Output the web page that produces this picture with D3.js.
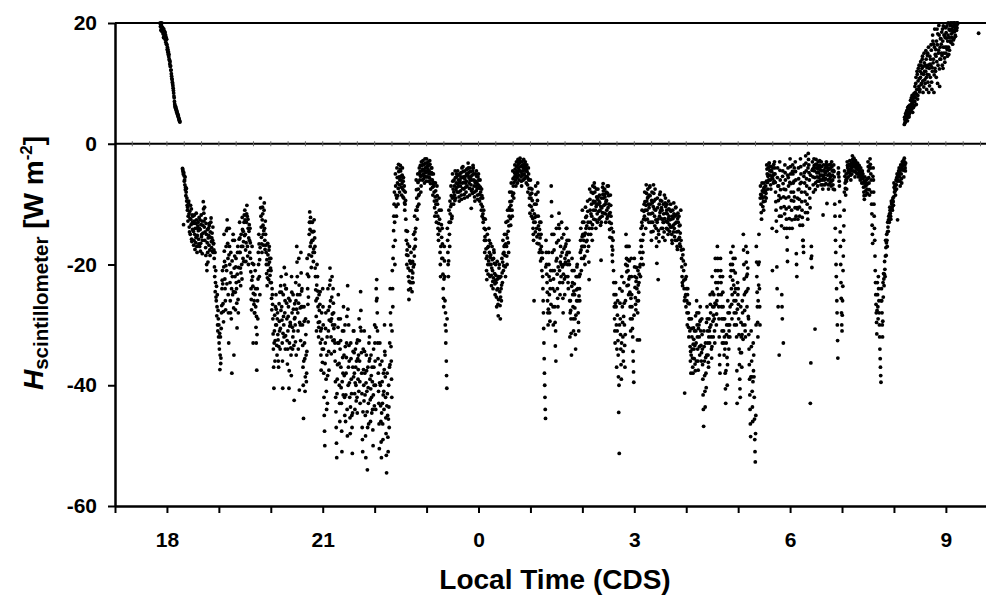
<!DOCTYPE html>
<html lang="en">
<head>
<meta charset="utf-8" />
<title>H scintillometer</title>
<script src="https://cdnjs.cloudflare.com/ajax/libs/d3/7.8.5/d3.min.js"></script>
<style>
  body { margin: 0; background: #fff; overflow: hidden; }
  text { font-family: "Liberation Sans", Arial, sans-serif; font-weight: bold; }
</style>
</head>
<body>
<div id="chart"></div>
<script>
// sampling step of the flux series (hours); rows hold 20 samples = 0.1 h
var step = 0.005;

// evening, positive flux (17.87 .. 18.25)
var eveningStart = 17.87;
var eveningH = [20,19.4,19.8,18.8,19.6,19,20,18.6,19.3,18.9,
  19.2,18.2,18.8,17.6,19,18,17.5,18.6,17.8,18.4,
  17.2,18,16.8,17.6,16.5,17.3,
  16.4,15.6,16,15.2,15.6,14.8,15.2,14.4,14.8,14,
  13.8,13.2,13.6,12.8,12.9,12.2,12.2,11.6,
  11.2,10.8,10.6,10.2,9.9,9.6,
  9.2,8.8,8.4,7.9,7.6,7,6.6,
  6.3,6,6.2,5.8,5.9,5.5,5.6,5.2,5.3,
  5,4.8,4.9,4.5,4.6,4.3,4.2,4,3.9,3.7,3.6];

// night, negative flux, one row per 0.1 h starting 18.3
var nightStart = 18.3;
var nightH = [
  [-4.1,-4.3,-4.6,-5,-13.4,-4.8,-5.3,-6.2,-6,-6.8,-5.5,-7.6,-7.2,-8.6,-8,-7.4,-9.5,-9,-10.2,-11],
  [-10.5,-12.8,-12,-9.8,-9.5,-11.6,-13.8,-14.6,-11.2,-12.4,-15,-10.2,-12.5,-13.4,-10.8,-15.8,-16.2,-11.8,-13,-14.2],
  [-12,-13.2,-14.5,-16.8,-16,-12.8,-11.8,-15,-17.5,-14,-13.2,-16.4,-15.5,-11.5,-12.6,-17,-18,-15.2,-14,-13.6],
  [-13,-14.4,-15.8,-16.6,-12.2,-14,-17,-12.6,-14.2,-17.8,-16.5,-13.4,-11.8,-15.4,-15,-12.8,-18.2,-16,-13.5,-14.8],
  [-9.6,-10.8,-11.5,-12.8,-13.8,-10.5,-16,-14.6,-12.4,-17.2,-18.5,-13.2,-15,-20,-21,-16.4,-14.2,-18,-19.6,-15.6],
  [-14,-15.2,-16.8,-13.6,-13.2,-17.6,-18.5,-14.6,-15.5,-13,-12.3,-16.2,-17.2,-15.6,-14.8,-17.8,-16,-13.8,-18,-16.6],
  [-16.5,-17.6,-19,-20.4,-22,-18,-24.5,-23,-21,-25.4,-26,-23.6,-28.5,-27,-25,-30,-31,-27.6,-29,-32],
  // 19 h
  [-30,-33,-34,-31.4,-37.4,-35,-32,-36.4,-35.5,-30.6,-28,-26.8,-24,-22.6,-21,-23.2,-26.5,-27.8,-29.5,-20.4],
  [-15,-17.8,-19.5,-22.4,-24,-26,-27.5,-20.2,-17,-14.4,-21,-23.2,-12.6,-14,-16.5,-19,-25,-28,-33,-18.4],
  [-14,-17,-20,-23,-26,-28,-18,-21.4,-29,-24,-38,-19.4,-22,-25,-16,-15,-24.5,-27.2,-35,-20.6],
  [-16,-18.6,-22,-24.6,-27.5,-20.4,-19,-23,-24,-26.4,-30.5,-21.6,-18,-17,-25.8,-28,-20.5,-22.8,-15.8,-18],
  [-13,-15.6,-18,-20.6,-23.5,-21.4,-15,-17,-20,-22.4,-12.2,-14.2,-17,-19,-14.5,-16.2,-19.5,-13,-11.8,-15.2],
  [-11,-12.6,-15,-17.6,-19.5,-16.4,-13,-11.6,-10.2,-12,-17,-18.6,-12.5,-14,-20,-15.6,-14.5,-13.4,-16,-18],
  [-14,-16.4,-19,-21.2,-24,-25.8,-27.5,-22.6,-17,-19.8,-22,-23.6,-33,-24.8,-20,-26.6,-26,-28,-28,-25],
  [-21,-24,-27,-30.4,-33,-28.6,-37.5,-31.6,-24,-26,-29,-22.4,-18,-20,-15,-16.6,-22,-19.2,-25,-17.2],
  [-9,-10.6,-12,-13.8,-15.5,-16.6,-18,-12.6,-10.5,-11.6,-13.5,-15,-16.8,-14.4,-11,-9.8,-14,-16,-17.5,-12.8],
  [-15,-16.8,-18,-20,-21.5,-19.2,-23.5,-22.2,-16.5,-18.4,-20,-21,-22.5,-17.6,-17,-19.6,-19,-21.8,-23,-20.6],
  // 20 h
  [-19,-21,-23,-25.6,-27.5,-24,-25,-26.6,-29,-31.5,-34,-37,-40.5,-33,-31,-28.4,-36,-32.6,-27,-30],
  [-25,-27.4,-30,-33.4,-35,-29,-28,-31.6,-32.5,-36,-37,-33.6,-26.5,-29.4,-31,-24.6,-34,-30.6,-23.5,-27.6],
  [-22,-24.6,-27,-29.2,-33,-36,-40.5,-31.4,-25,-28.6,-30,-32,-20.5,-23.4,-28,-26,-34,-31.8,-24,-21.6],
  [-24,-26.4,-29,-32.6,-36.5,-34,-31,-28.6,-27,-25.6,-40.5,-37.6,-33,-30.2,-26,-29.6,-30,-33.8,-35,-38.4],
  [-22,-24.6,-28,-30.4,-34,-32,-25,-27.4,-31,-33.4,-42.5,-29,-26.5,-28.8,-30,-32.8,-23,-26,-35,-27.4],
  [-17,-19.6,-22,-25,-28,-31,-34,-26.4,-19,-23.4,-40.8,-29.6,-25,-27.2,-30,-32.6,-18,-21.4,-27,-24.4],
  [-24,-27,-30,-33.4,-37,-40,-45.5,-36,-27,-29.4,-33,-35.6,-41,-38.6,-29,-31.6,-35,-39.4,-38,-34.4],
  [-19,-21.6,-24,-26.6,-29.5,-25.4,-22,-18.4,-15,-13,-11.3,-14.2,-17,-12.2,-13,-16.4,-20.5,-18.6,-14.5,-16],
  [-13,-14.6,-16,-18,-19.5,-17.4,-14.5,-12.6,-18,-15.6,-17,-20.6,-22,-24.2,-26,-28.6,-31,-23.4,-20,-25.6],
  [-22,-24.4,-27,-29.6,-32,-30.4,-25,-27.6,-29.5,-26.6,-24.5,-33,-31,-35,-37.5,-30.6,-28,-32.4,-34,-36.2],
  // 21 h
  [-24,-27,-30,-34,-38,-42,-45,-47.6,-50,-36.4,-33,-30.6,-28,-39,-41,-44,-35,-32,-43,-38.4],
  [-24,-27.6,-31,-34.4,-37.5,-29.2,-27,-23.4,-20.6,-22.6,-26,-29.4,-32,-34.8,-29,-25.4,-22,-28.2,-30,-32.6],
  [-24,-26.4,-28,-30.6,-32.5,-34.4,-30,-33,-36,-39.4,-42,-44.4,-47,-49.6,-52,-41.4,-39,-36.6,-33,-30.4],
  [-25,-29,-33,-36.4,-40,-43,-46,-34,-29,-32.6,-37,-40.4,-43,-47.6,-51,-39.4,-31,-35.4,-38,-41.6],
  [-27,-31,-35,-38.4,-42,-45,-30,-33.6,-46,-41.6,-38,-35.4,-33,-28.6,-44,-48.4,-23.5,-27.4,-40,-37],
  [-30,-33.4,-36,-39.6,-42,-45.4,-48,-43.6,-33,-35.6,-39,-41.4,-45,-47,-51.3,-44.6,-37,-34.4,-31,-38.6],
  [-31,-34.6,-38,-41.4,-44,-39.6,-34,-37,-40,-42.6,-36,-33,-42,-44.6,-32.5,-35.6,-39,-37.4,-35,-41],
  [-29,-32.6,-36,-39.4,-43,-30.4,-24.5,-27.6,-31,-34.6,-38,-41.4,-47,-49,-51,-44.4,-34,-37.4,-40,-42.6],
  [-31,-34.4,-38,-41.6,-45,-48.4,-52,-39.6,-35,-37.6,-41,-44.4,-54,-47,-37,-40.4,-43,-46.4,-33,-36],
  [-32,-35.6,-39,-42.4,-46,-40.6,-35,-38.4,-42,-44.6,-37,-39.4,-44,-47.4,-50,-41.6,-34,-37,-40,-43.4],
  // 22 h
  [-30,-33,-36,-40,-44,-30.4,-24,-26,-22.5,-25.6,-28,-31,-33,-35.6,-38,-41,-43,-46.4,-50.5,-39.6],
  [-33,-36.6,-40,-43.4,-46,-49.4,-52,-44.6,-36,-39.4,-43,-46.4,-49,-41.6,-38,-41,-44,-37.4,-30,-34.4],
  [-35,-38.6,-42,-45.4,-48,-51.6,-54.5,-43.4,-38,-41.4,-45,-48.6,-51,-45.6,-40,-43.6,-47,-37,-33,-36.6],
  [-24,-28,-30,-33.6,-36,-39,-42,-31,-21,-24,-27,-19,-17,-14.4,-12,-10,-8,-13,-20,-16],
  [-5,-7,-8.5,-10.4,-12,-9,-4,-5.6,-6.5,-8.6,-10,-7.4,-3.4,-4.6,-5.5,-6.8,-8,-6,-4.2,-3.6],
  [-4.5,-5.4,-6,-7.2,-8.5,-6.6,-5.2,-4,-7.5,-8.8,-6.2,-5.6,-9,-7.8,-7,-9.8,-11,-10,-8,-9.4],
  [-12.5,-14.4,-16,-18.4,-20,-17.6,-14.5,-16.6,-18.5,-20.6,-22,-24.2,-25.8,-22.8,-17,-19.4,-21,-23,-24,-19.8],
  [-18,-19.6,-21,-23,-24.5,-22.2,-19.5,-21.4,-23,-20.4,-15,-17.4,-20,-18.6,-12,-14.6,-17,-15.8,-14,-11],
  [-6,-7.6,-9,-11,-12.5,-10.4,-5,-6.4,-7.5,-8.6,-10,-8.4,-4,-5,-6,-4.6,-3.6,-5.4,-8,-7],
  [-3,-3.6,-4.5,-5.2,-6,-4.2,-2.8,-3.4,-5,-5.8,-3.5,-4.4,-6.5,-5.4,-2.5,-3.2,-4,-4.8,-5.5,-6.2],
  // 23 h
  [-2.5,-3.2,-3.8,-4.6,-5.5,-4.2,-3,-3.6,-6.2,-5,-4.5,-5.6,-2.8,-3.4,-5,-6.6,-7.5,-6,-4,-4.8],
  [-4,-5,-6,-7.2,-8.5,-6.6,-5,-6.4,-7,-8,-9.5,-10.6,-12,-8.8,-6.5,-7.8,-10,-11.4,-13,-9.4],
  [-7,-8.6,-10,-12,-14,-15,-16,-13.2,-9,-11,-12.5,-14.4,-18,-20,-22,-17,-11,-13.4,-15.5,-19],
  [-14,-16.6,-19,-21.6,-24,-25.6,-27,-22.4,-17,-19.4,-22,-26,-30,-28,-33,-31,-36,-38.4,-40.5,-29],
  [-14,-16,-18,-20,-22,-19.4,-11,-13,-15,-17,-9.5,-11.6,-13,-10.4,-7,-8.6,-10,-12.4,-12,-9],
  [-5,-6.2,-7.5,-8.8,-10,-8,-6,-7,-8.5,-9.4,-4.5,-5.6,-9,-7.6,-6.5,-5,-5.5,-7.2,-8,-6.6],
  [-4.5,-5.2,-6,-7,-8,-8.8,-9.5,-6.4,-5,-6,-7,-7.8,-5.5,-4.8,-8.5,-9.2,-4,-5.6,-6.5,-7.4],
  [-3.8,-4.6,-5.5,-6.4,-7.5,-8.4,-9,-5.8,-4.5,-5.4,-6.5,-7.2,-8,-6.2,-5,-4.2,-7,-8.8,-4.2,-5.2],
  [-3.2,-4,-4.8,-5.6,-6.5,-7.4,-8.5,-6,-4,-4.6,-5.5,-6.8,-10.7,-7.8,-6,-5.2,-7.5,-8.2,-4.5,-3.6],
  [-4,-5,-6,-7,-8,-8.8,-9.5,-6.4,-5,-6.2,-7,-7.8,-4.5,-5.4,-6.5,-7.4,-8.5,-9.2,-5.5,-6.8],
  // 0 h
  [-5,-6,-7,-8.4,-9.5,-7.4,-6,-7.2,-8,-9,-10,-11,-7.5,-8.6,-12,-10.4,-9,-11.6,-13,-12.4],
  [-11,-12.4,-14,-16,-18,-15.4,-12.5,-14.2,-16,-17.4,-19,-21,-22.5,-18.6,-15,-17.2,-20,-21.6,-17,-19.4],
  [-14,-16,-18,-20,-22,-18.8,-16.5,-18.4,-20,-21.8,-23.5,-20.6,-17,-19.2,-21,-22.8,-24,-22.2,-19,-17.6],
  [-18,-19.8,-21.5,-23.2,-25,-22.6,-20,-21.8,-23,-25.4,-27,-24.2,-19.5,-22.4,-24,-26.6,-28.5,-25.8,-22,-20.6],
  [-20,-22.2,-24.5,-26.8,-29,-25.4,-22,-24,-26,-23.4,-19,-21.4,-23,-19.6,-16,-18.2,-21,-20.2,-18,-17],
  [-15,-16.8,-18.5,-20.4,-22,-16.6,-13,-15,-17,-18.6,-20,-15.6,-11,-12.8,-14.5,-16.4,-18,-13.6,-12,-10.6],
  [-8,-9.6,-11,-12.4,-13.5,-10.2,-6.5,-8,-9.5,-11,-12,-8.6,-4.5,-5.8,-7,-8.2,-9,-6.4,-5.5,-4.8],
  [-3.5,-4.2,-5,-6,-7,-5.4,-3,-3.8,-4.5,-5.6,-6.5,-4.8,-2.6,-3.4,-4,-5.2,-6,-4.4,-3.2,-2.8],
  [-2.4,-3,-3.8,-4.6,-5.5,-6.2,-7,-5,-3,-3.6,-4.5,-5.2,-6,-4,-2.6,-3.4,-5,-5.8,-3.5,-4.2],
  [-3,-3.8,-4.5,-5.4,-6.5,-4.2,-3.5,-4.6,-5.5,-6.8,-8,-5.8,-4,-5,-6,-7.4,-9,-10.2,-11.5,-8.4],
  // 1 h
  [-6,-7.4,-9,-10.4,-12,-8.2,-7.5,-9.4,-11,-12.4,-14,-15,-16,-13,-26,-11.6,-10,-12.2,-13,-14.6],
  [-7,-8.4,-10,-12,-14,-15.4,-16.5,-9.4,-6.5,-8,-12,-13.6,-15,-16.6,-18,-14.2,-13,-15.6,-17.5,-19.4],
  [-13,-15,-17,-19,-21,-18,-19,-22,-24,-26,-28,-30.6,-33,-35.6,-38,-40,-42,-44,-45.5,-20.4],
  [-16,-18,-20,-21.6,-23,-24.6,-26,-28,-30,-27.4,-18,-20,-22,-25,-28,-29.4,-24,-22.6,-21,-26.6],
  [-7,-9.6,-12,-15,-18,-21,-24,-27,-30,-22.4,-15,-17.6,-21,-24.4,-27,-29.6,-33.5,-31,-36,-19.4],
  [-14,-16.4,-19,-21.6,-24,-25.6,-27,-20.4,-16,-13.4,-11.5,-14,-21,-23,-25,-19.6,-17,-18.6,-22,-20],
  [-13,-15.6,-18,-20.4,-23,-25.6,-28,-21.6,-15,-17.4,-20,-22.4,-25,-19,-17,-19.6,-22,-16.6,-14,-18.4],
  [-14,-16,-18,-20,-22,-23,-24,-19.4,-16,-18,-20,-26,-32,-28,-26,-27.6,-29,-31.4,-35,-23.6],
  [-19,-21,-23,-25,-27,-29,-31,-24.4,-21,-23.2,-25,-27.2,-29,-31.6,-34,-28.4,-22,-24.2,-26,-20.4],
  [-20,-22,-24,-26,-28,-29.6,-31,-25.2,-22,-24,-26,-21.6,-18,-16,-14,-17.6,-21,-19,-17,-15.4],
  // 2 h
  [-11,-13,-15,-17,-19,-16,-13,-15.2,-17,-18.6,-20,-14.8,-10.5,-12.2,-14,-16.2,-12,-13.6,-16,-17.8],
  [-9.5,-11.2,-13,-15,-17,-19.6,-22.5,-14,-7.5,-9.2,-11,-13,-15,-11.6,-8,-10,-12,-14,-16,-13.4],
  [-7,-8.2,-9.5,-11,-12.5,-9.8,-6.5,-7.2,-8,-9.6,-11,-12.6,-14,-10.4,-7.5,-8.8,-10,-11.6,-13,-9.2],
  [-7.5,-8.8,-10,-11.2,-12.5,-9.6,-8.5,-9.8,-11,-12.2,-13.5,-10.4,-19.3,-13,-9,-10.6,-12,-11.4,-7.2,-8.4],
  [-6.6,-7.8,-9,-10.2,-11.5,-8.4,-7.5,-8.8,-10,-11.6,-13,-9.6,-8,-9.4,-11,-12.4,-7,-8.2,-12,-10.6],
  [-7,-8.6,-10,-11.6,-13,-14.2,-15.5,-11.4,-8.5,-10.2,-12,-13.2,-14,-15.6,-17,-18.4,-19.5,-17.6,-16,-14.6],
  [-21,-23,-25,-27,-29,-31,-33,-26.4,-23,-25,-27,-30,-37,-34,-31,-28.4,-26,-32.6,-35,-38.6],
  [-44.5,-40,-51.3,-30,-24,-26.4,-29,-31.6,-34,-36.6,-39,-33,-22,-24.4,-27,-29.6,-32,-34.4,-36,-28.6],
  [-23,-26.4,-30,-33.4,-37,-31.6,-26,-20,-15,-17,-19,-21.2,-23.5,-20.2,-17,-19.2,-21,-23.4,-25,-22.4],
  [-17,-19.4,-22,-24.6,-27,-29,-31,-25.6,-19,-22,-25,-27,-29,-30.6,-32,-34.4,-36,-37.8,-39.5,-28.4],
  // 3 h
  [-19,-20.4,-22,-23.8,-25.5,-26.6,-27.5,-22.8,-20.5,-22.2,-24,-26,-32.5,-28,-21,-23.4,-26,-24.6,-23,-21.6],
  [-32.5,-20.4,-18,-20,-22,-16,-14,-17,-19,-13,-11,-13.6,-16,-18,-20,-15,-12.5,-11.2,-10,-12],
  [-8,-9.6,-11,-12.6,-14,-10.2,-6.8,-8.2,-9.5,-11,-12.5,-9,-7.5,-8.8,-10,-11.6,-13,-10.6,-8.5,-7.2],
  [-7,-8.6,-10,-11.6,-13,-14.6,-16,-9.4,-8,-9.8,-11.5,-13,-14.5,-10.4,-6.8,-8.2,-9.5,-10.8,-12,-13.6],
  [-7.5,-9.2,-11,-12.6,-14,-15.6,-17,-19.8,-13,-9,-10.6,-12.5,-22.5,-14.4,-15,-16.2,-10,-12,-8.4,-11.4],
  [-8,-9.4,-11,-12.4,-14,-10.6,-9.5,-11,-12.5,-14,-15.5,-13,-10,-11.6,-13,-14.6,-8.5,-12.4,-16,-9.8],
  [-9,-10.4,-11.5,-12.8,-14,-11,-10,-11.6,-13,-14.2,-15,-12.4,-9.5,-10.8,-12,-13.4,-14.5,-12.6,-11,-13.8],
  [-10,-11.2,-12.5,-13.8,-15,-16,-16.5,-12,-11,-12.4,-13.5,-14.6,-9.8,-11.6,-14,-15.4,-12,-13.2,-16,-10.6],
  [-10.5,-11.8,-13,-14.6,-16,-17,-17.5,-12.4,-11.5,-13,-14.5,-15.8,-12,-13.6,-15.5,-16.6,-13.5,-14.8,-17,-11],
  [-16,-17.6,-19,-20.4,-22,-23,-23.5,-18.4,-17.5,-19.4,-21,-22.6,-24,-26,-41.3,-25.4,-20,-22.4,-25,-27],
  // 4 h
  [-22,-24,-26,-28,-30,-25,-24,-26.4,-28,-30.4,-32,-29,-26.5,-29,-31,-33.6,-36,-34.4,-38,-35],
  [-29,-30.6,-32,-34,-35.5,-37,-38,-33.2,-30.5,-32.4,-34,-35.6,-31,-33.4,-36.5,-37.6,-28.5,-31,-33,-36],
  [-26,-28,-30,-32,-34,-36,-37.5,-30.6,-28,-30,-32,-33.6,-35,-29.4,-27,-29.2,-31,-33.4,-36,-34.6],
  [-29,-31.6,-34,-36.6,-39,-41.6,-44,-46.8,-31,-33.6,-36,-38.4,-41,-43.6,-33,-35.4,-38,-40.4,-29.6,-35],
  [-27,-29,-31,-33,-35,-36.2,-37,-32,-29,-31,-33,-30.4,-25,-26.6,-28,-30,-32,-34,-35.5,-33.6],
  [-22,-24.6,-27,-29.4,-32,-28.4,-25,-27,-29,-31,-33,-26.4,-19,-21,-23,-26.6,-30,-28.2,-26,-24],
  [-17,-19,-21,-23,-25,-27,-29,-32,-35,-36.6,-38,-22,-19,-21,-23,-25,-27,-29,-31,-33],
  [-22,-24.6,-27,-29,-31,-33,-35,-32,-29,-34,-38,-40.6,-43,-37.6,-33,-31.6,-30,-35.4,-40,-36.6],
  [-26,-28,-30,-32,-34,-31,-28,-30,-32,-27,-22,-20,-18,-21,-24,-26.6,-29,-25,-20,-22.6],
  [-17,-19,-21,-23.4,-26,-28,-30,-24.6,-19,-21.4,-24,-26,-28,-30,-32,-37.6,-43,-27.4,-23,-25],
  // 5 h
  [-24,-26.6,-29,-31.6,-34,-36.6,-39,-40.6,-42,-34.6,-27,-29.6,-32,-34.6,-37,-31.6,-26,-28,-30,-32.4],
  [-15,-17.6,-20,-22.4,-25,-27.6,-30,-31,-32,-24.6,-17,-19.6,-22,-24.4,-27,-21.6,-18,-20.6,-24,-28.6],
  [-29,-31.6,-34,-36.6,-39,-41.6,-44,-46.4,-48.5,-38.6,-31,-33.6,-36,-38.6,-41,-43.6,-46,-39.4,-33,-37.6],
  [-35,-38.6,-42,-45.6,-49,-51,-52.7,-48,-45,-30,-17,-19.6,-22,-24.6,-27,-29.6,-32,-26,-20,-23.4],
  [-15,-19.6,-24,-27,-30,-9,-7,-8.4,-10,-11.4,-12.5,-8.6,-6.5,-7.8,-9,-10.4,-8,-9.6,-11,-7.4],
  [-6.5,-7.2,-8,-8.8,-9.5,-7.8,-7,-8.2,-9,-6.2,-3.5,-4.2,-5,-6.4,-7.5,-5.4,-4,-5.2,-6,-3.2],
  [-3.2,-3.8,-4.5,-5.2,-6,-6.8,-7.5,-4.4,-3.8,-4.6,-5.5,-14,-21,-5.8,-4,-5.2,-6.5,-3.4,-5,-6.2],
  [-3,-4,-5,-6.4,-8,-9.6,-11,-12.8,-14.5,-20.4,-24,-5.6,-4,-7,-27,-9.4,-7,-8.6,-35,-12],
  [-3,-4.4,-6,-7.6,-9,-10.6,-12,-13.6,-25,-27,-29,-5.4,-4.5,-6.6,-33,-8.8,-7.5,-10.4,-14,-11.6],
  [-3.5,-4.8,-6,-7.6,-9,-10.8,-12.5,-14,-15.5,-17.6,-19.5,-5.2,-4,-5.6,-7,-8.8,-10.5,-12.4,-14,-6.4],
  // 6 h
  [-2.5,-3.8,-5,-6.6,-8,-9.4,-11,-12.6,-14,-4.6,-3.5,-5,-6.5,-8,-9.5,-6.2,-4,-8.8,-12.5,-10.6],
  [-3,-4.6,-6,-12,-18.2,-20,-22,-10.6,-9,-10.8,-12.5,-7.6,-4,-5.8,-7.5,-9.2,-10.5,-12,-13.5,-6.6],
  [-2.5,-3.8,-5,-6.4,-8,-9.6,-11,-12.2,-13.5,-16,-16,-17,-18,-5.4,-3.5,-4.8,-6.5,-8,-9.5,-11.4],
  [-2,-3.2,-4.5,-5.8,-7,-8.4,-10,-11.4,-12.5,-4,-1.6,-2.6,-3.5,-4.8,-6,-7.4,-9,-10.6,-43,-5.2],
  [-36.3,-19,-17,-18.6,-20.5,-4.4,-3,-4.2,-5.5,-6.8,-8,-4,-2.5,-3.6,-4.5,-5.6,-30.7,-7.6,-6.5,-3.4],
  [-2.6,-3.4,-4,-4.8,-5.5,-6.2,-7,-4.2,-3,-3.8,-4.8,-5.6,-6.2,-3.6,-2.8,-3.6,-4.3,-5.2,-6,-6.8],
  [-3,-3.8,-4.5,-5.2,-6,-6.8,-7.5,-11.8,-5.6,-3.5,-4.4,-5.2,-6,-6.8,-4.6,-4,-4.8,-5.8,-6.6,-3.4],
  [-3,-3.8,-9.9,-4,-4.5,-5.2,-6,-6.8,-7.5,-4.2,-3.5,-4.2,-5,-5.8,-6.5,-3.4,-4,-5.4,-7,-6.2],
  [-3,-3.8,-4.5,-5.2,-6,-6.8,-7.5,-4.4,-3.5,-4.6,-5.5,-7.6,-10,-12,-14,-16,-18,-20,-22,-24],
  [-26,-28,-30,-32.6,-35.5,-5,-4,-4.8,-5.5,-6.2,-7,-9.6,-12,-14.6,-17,-20,-23,-25.6,-28,-30],
  // 7 h
  [-31,-28.4,-26,-23.6,-21,-18.6,-16,-13.6,-11,-8,-4.5,-5.4,-6.5,-7.4,-8.5,-6,-5,-6.2,-7.5,-5.8],
  [-3,-3.6,-4,-4.8,-5.5,-4.4,-3.5,-4.2,-4.8,-3.4,-2.8,-3.6,-4.2,-5.2,-6,-4.4,-3.2,-4,-5,-3.8],
  [-2,-2.6,-3,-3.8,-4.5,-3.4,-2.4,-3,-3.6,-4.6,-5.5,-3.8,-2.8,-3.4,-4,-4.8,-3.2,-4.2,-5,-3.6],
  [-3.2,-3.8,-4.2,-5,-5.5,-4.4,-3.6,-4.2,-4.8,-5.4,-6,-4.6,-4,-4.6,-5.2,-5.8,-6.5,-5.4,-4.5,-5],
  [-5,-5.8,-6.5,-7.2,-8,-8.6,-9.2,-6.2,-5.5,-6.4,-7,-7.8,-8.5,-6.8,-6,-6.8,-7.5,-8.2,-5.8,-6.6],
  [-3,-3.8,-4.5,-5.6,-6.5,-7.6,-8.5,-4,-2.5,-3.4,-4,-5,-6,-8,-10,-11.6,-13.5,-15,-16.5,-5.4],
  [-4,-6,-8,-10,-12,-14,-16,-18.6,-21,-23,-25,-26.6,-28,-29.6,-31.5,-27.6,-23,-25,-27,-29],
  [-22,-24,-26,-28,-30,-32,-34,-35.6,-37,-38.4,-39.5,-26,-24,-26,-28,-30,-32,-29.4,-23,-25.4],
  [-21.5,-22.4,-23.5,-21.6,-19.5,-20.8,-22,-18.6,-16,-17.2,-18.5,-16.4,-15,-16,-17,-14.6,-13,-13.8,-14.5,-12.6],
  [-12,-12.6,-13,-11.6,-10.5,-11,-11.5,-12,-12.5,-10.6,-9.5,-9.8,-10,-10.6,-11,-9.4,-9,-9.6,-10.2,-8.8],
  // 8 h
  [-6.5,-7.2,-8,-7.4,-7,-7.8,-8.5,-6.8,-6,-6.8,-7.5,-5.6,-5,-6.2,-12.6,-5.4,-6,-5.2,-4.5,-5],
  [-4,-4.8,-5.5,-6.2,-7,-4.4,-3.5,-4.2,-5,-5.8,-6.5,-3.8,-3,-3.6,-4.2,-3.2,-2.8,-4.4,-5.5,-3.4],
  [-2.4,-3,-3.5,-4,-4.5,-3.2]
];

// morning, positive flux, rows of 0.1 h starting 32.2
var morningStart = 32.2;
var morningH = [
  [3.2,4.4,4,3.5,3.6,5,4.8,4.2,4.2,5.4,5.5,4.6,3.8,6,5,5.2,6.2,4.4,4.6,5.8],
  [5,6.4,6,5.4,7.2,6.2,5.6,7.6,6.6,5.8,8,6.8,5.2,7.4,7,6,6.2,8.3,7.8,6.4],
  [7,9.5,8.5,7.6,10,11,6.5,8.2,9,12,11.5,7.4,8,10.4,12.5,9,9.5,13,10.8,8.6],
  [9,12,11,13.6,13,9.8,10,11.6,12.5,14,14.5,10.4,8.5,12.8,11.5,9.4,15,13.4,12,10.6],
  [10,13,12,15.4,14,11,9,12.6,11.5,14.6,15,10.2,13,16,8.5,11.4,12.5,9.6,14.5,13.2],
  [11,14,13,16.4,15.5,10.2,9,12.6,12,18,17,13.4,14,16.5,8.5,11.4,16,19,12.5,14.8],
  [12,15.6,14.5,11,17,13.6,19,16.4,10,18.2,13,15,15.5,19.6,18,12.4,9.5,14,16,17.4],
  [14,17.4,16.5,15,18.5,14.6,13,19,17,12.5,19.5,16,15,18,18,14.2,13.5,17.6,16,19.2],
  [15,18.4,17.5,16,19.5,15.6,14.5,17,18,20,16,14.8,19,17.6,15.5,18.8,17,19.6,20,16.8],
  [17,18.2,19,17.6,20,18.8,16.5,19.4,18.5,17.2,19.5,20,17.5,18.6,20,19.2,18,17.8,19,19.8],
  [19.5,18.8,20,19.2,19.8,20]
];

// isolated late sample
var strayT = [33.63];
var strayH = [18.3];

var yTicks = [20, 0, -20, -40, -60];
var hourTicks = d3.range(17, 34);

var width = 986, height = 596;
var pxPerHour = 51.93;
var rowSpan = 0.1;

var x = d3.scaleLinear().domain([17, 34]).range([115, 115 + 17 * pxPerHour]);
var y = d3.scaleLinear().domain([-60, 20]).range([506, 23]);

var points = [];
eveningH.forEach(function (v, i) { points.push([eveningStart + i * step, v]); });
nightH.forEach(function (row, r) {
  row.forEach(function (v, i) { points.push([nightStart + r * rowSpan + i * step, v]); });
});
morningH.forEach(function (row, r) {
  row.forEach(function (v, i) { points.push([morningStart + r * rowSpan + i * step, v]); });
});
strayT.forEach(function (t, i) { points.push([t, strayH[i]]); });

var svg = d3.select("#chart").append("svg")
  .attr("width", width)
  .attr("height", height);

svg.append("clipPath").attr("id", "plot")
  .append("rect").attr("x", 115).attr("y", 21).attr("width", width - 115).attr("height", 487);

// dots
svg.append("g").attr("clip-path", "url(#plot)")
  .selectAll("circle")
  .data(points)
  .enter()
  .append("circle")
    .attr("cx", function (d) { return x(d[0]); })
    .attr("cy", function (d) { return y(d[1]); })
    .attr("r", 1.9)
    .attr("fill", "#000");

// top frame and zero line
svg.append("line")
  .attr("x1", 115).attr("x2", width)
  .attr("y1", y(20)).attr("y2", y(20))
  .attr("stroke", "#000").attr("stroke-width", 2);
svg.append("line")
  .attr("x1", 115).attr("x2", width)
  .attr("y1", y(0)).attr("y2", y(0))
  .attr("stroke", "#000").attr("stroke-width", 2);

// small minor ticks on the zero line every 20 min
svg.append("g")
  .selectAll("line")
  .data(d3.range(17 + 1 / 3, 34, 1 / 3))
  .enter()
  .append("line")
    .attr("x1", function (d) { return x(d); })
    .attr("x2", function (d) { return x(d); })
    .attr("y1", y(0) - 2.5).attr("y2", y(0) + 2.5)
    .attr("stroke", "#666").attr("stroke-width", 1);

// x axis
var xAxis = svg.append("g")
  .attr("transform", "translate(0," + y(-60) + ")")
  .call(d3.axisBottom(x)
    .tickValues(hourTicks)
    .tickSize(7)
    .tickSizeOuter(0)
    .tickPadding(19)
    .tickFormat(function (h) { return (h - 18) % 3 === 0 ? String(h % 24) : ""; }));
xAxis.select(".domain").attr("stroke-width", 2.5);
xAxis.selectAll(".tick line").attr("stroke-width", 2);
xAxis.selectAll("text").attr("font-size", 21).attr("fill", "#000")
  .attr("font-family", "Liberation Sans, Arial, sans-serif").attr("font-weight", "bold");

// y axis
var yAxis = svg.append("g")
  .attr("transform", "translate(115,0)")
  .call(d3.axisLeft(y)
    .tickValues(yTicks)
    .tickSize(7)
    .tickSizeOuter(0)
    .tickPadding(11)
    .tickFormat(function (d) { return String(d); }));
yAxis.select(".domain").attr("stroke-width", 2.5);
yAxis.selectAll(".tick line").attr("stroke-width", 2);
yAxis.selectAll("text").attr("font-size", 21).attr("fill", "#000")
  .attr("font-family", "Liberation Sans, Arial, sans-serif").attr("font-weight", "bold");

// axis titles
svg.append("text")
  .attr("x", 555).attr("y", 589)
  .attr("text-anchor", "middle")
  .attr("font-size", 28)
  .text("Local Time (CDS)");

var yTitle = svg.append("text")
  .attr("transform", "translate(43,263) rotate(-90)")
  .attr("text-anchor", "middle")
  .attr("font-size", 28);
yTitle.append("tspan").attr("font-style", "italic").text("H");
yTitle.append("tspan").attr("font-size", 20.5).attr("dy", 5).text("scintillometer");
yTitle.append("tspan").attr("dy", -5).text(" [W m");
yTitle.append("tspan").attr("font-size", 17).attr("dy", -11).text("-2");
yTitle.append("tspan").attr("dy", 11).text("]");
</script>
</body>
</html>
